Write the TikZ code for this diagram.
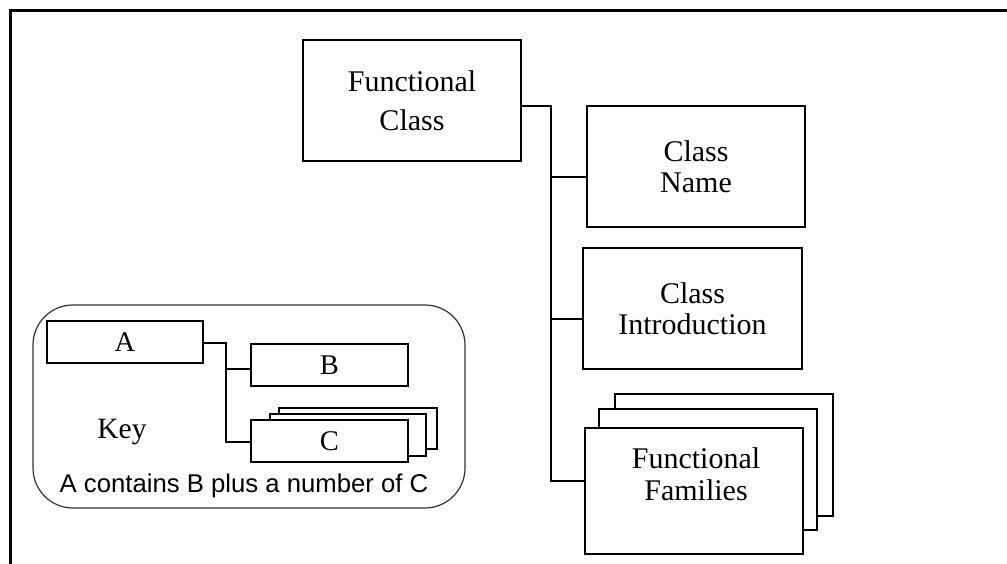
\documentclass[tikz,border=0pt]{standalone}
\usepackage{fontspec}
\setmainfont{Liberation Serif}
\newfontfamily\arialfont{Liberation Sans}
\begin{document}
\begin{tikzpicture}[x=1pt,y=-1pt,
  box/.style={draw, line width=2.6pt, fill=white, inner sep=0pt, outer sep=0pt, align=center, font=\fontsize{30}{31}\selectfont},
  kbox/.style={draw, line width=2pt, fill=white, inner sep=0pt, outer sep=0pt, align=center, font=\fontsize{28.5}{30}\selectfont},
  conn/.style={line width=2.2pt},
  kconn/.style={line width=2pt},
  frameline/.style={line width=3pt},
  keyframe/.style={draw=black!80, line width=1.2pt, rounded corners=40pt, inner sep=0pt, outer sep=0pt}
]
\useasboundingbox (0,0) rectangle (1007,564);

% outer frame (top and left only)
\coordinate (fbl) at (10,564);
\coordinate (ftl) at (10,11);
\coordinate (ftr) at (1007,11);
\draw[frameline] (fbl) -- (ftl) -- (ftr);

% main tree
\node[box, minimum width=218, minimum height=121, font=\fontsize{30}{39}\selectfont] (fc) at (412,100.5) {Functional\\Class};
\node[box, minimum width=218, minimum height=121] (cn) at (696,166.5) {Class\\Name};
\node[box, minimum width=219, minimum height=121] (ci) at (692.5,308.5) {Class\\Introduction};
\node[box, minimum width=218, minimum height=122] (ff3) at (724,455) {};
\node[box, minimum width=218, minimum height=121] (ff2) at (708,469.5) {};
\node[box, minimum width=218, minimum height=126] (ff) at (694,491) {};
\node[align=center, inner sep=0pt, font=\fontsize{30}{32}\selectfont] (fflabel) at (696,474) {Functional\\Families};

\coordinate (j0) at (551,106);
\coordinate (j1) at (551,177);
\coordinate (j2) at (551,319);
\coordinate (j3) at (551,481);
\draw[conn] (fc.east |- j0) -- (j0) -- (j3) -- (ff.west |- j3);
\draw[conn] (j1) -- (cn.west |- j1);
\draw[conn] (j2) -- (ci.west |- j2);

% key
\node[keyframe, minimum width=432, minimum height=203] (keybox) at (249,406.5) {};
\node[kbox, minimum width=156, minimum height=42] (a) at (125,342) {A};
\node[kbox, minimum width=157, minimum height=42] (b) at (329.5,365) {B};
\node[kbox, minimum width=158, minimum height=41] (c3) at (358,428.5) {};
\node[kbox, minimum width=156, minimum height=42] (c2) at (348,435) {};
\node[kbox, minimum width=157, minimum height=42] (c) at (329.5,441) {C};

\coordinate (kt) at (226,343);
\coordinate (kb) at (226,369);
\coordinate (kc) at (226,442);
\draw[kconn] (a.east |- kt) -- (kt) -- (kc) -- (c.west |- kc);
\draw[kconn] (kb) -- (b.west |- kb);

\node[anchor=base, inner sep=0pt, font=\fontsize{29.5}{32}\selectfont] (keylbl) at (122,438) {Key};
\node[anchor=base, inner sep=0pt, font=\arialfont\fontsize{25.7}{30}\selectfont] (caption) at (244,492) {A contains B plus a number of C};
\end{tikzpicture}
\end{document}
